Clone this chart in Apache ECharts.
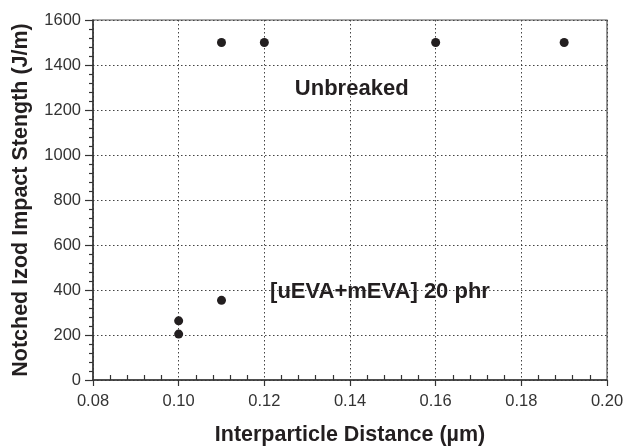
<!DOCTYPE html>
<html>
<head>
<meta charset="utf-8">
<script src="https://cdn.jsdelivr.net/npm/echarts@6/dist/echarts.min.js"></script>
<style>
  html, body { margin: 0; padding: 0; background: #fff; }
  #chart { width: 627px; height: 446px; }
</style>
</head>
<body>
<div id="chart"></div>
<script>
// interparticle distance (um) vs notched izod impact strength (J/m)
const distance = [0.10, 0.10, 0.11, 0.11, 0.12, 0.16, 0.19];
const strength = [204, 263, 354, 1500, 1500, 1500, 1500];

// annotation texts and where they sit (data coords)
const noteText = ['Unbreaked', '[uEVA+mEVA] 20 phr'];
const noteX = [0.1404, 0.147];
const noteY = [1293, 392];

const xTicks = { min: 0.08, max: 0.20, interval: 0.02 };
const yTicks = { min: 0, max: 1600, interval: 200 };

const font = 'Liberation Sans, Arial, sans-serif';
const ink = '#231f20';

const chart = echarts.init(document.getElementById('chart'));

const option = {
  animation: false,
  grid: {
    left: 93, right: 20, top: 20, bottom: 66,
    outerBoundsMode: 'none',
    containLabel: false,
    show: true, borderColor: '#555', borderWidth: 1.2, backgroundColor: 'transparent'
  },
  xAxis: [
    {
      type: 'value',
      min: xTicks.min, max: xTicks.max, interval: xTicks.interval,
      position: 'bottom',
      name: 'Interparticle Distance (\u00b5m)',
      nameLocation: 'middle',
      nameGap: 44,
      nameTextStyle: { fontFamily: font, fontSize: 21.5, fontWeight: 'bold', color: ink },
      axisLine: { onZero: false, lineStyle: { color: '#333', width: 1.5 } },
      axisTick: { show: true, length: 6, lineStyle: { color: '#333', width: 1.2 } },
      minorTick: { show: false },
      axisLabel: {
        fontFamily: font, fontSize: 16.5, color: '#333', margin: 13,
        formatter: v => v.toFixed(2)
      },
      splitLine: {
        show: true,
        lineStyle: { type: [1.5, 2.5], color: '#444', width: 1 }
      }
    },
    {
      // inner minor ticks on the bottom axis
      type: 'value',
      min: xTicks.min, max: xTicks.max, interval: xTicks.interval,
      position: 'bottom',
      axisLine: { show: false, onZero: false },
      axisTick: { show: false, inside: true },
      minorTick: { show: true, splitNumber: 5, length: 5, lineStyle: { color: '#333', width: 1.2 } },
      axisLabel: { show: false },
      splitLine: { show: false }
    }
  ],
  yAxis: {
    type: 'value',
    min: yTicks.min, max: yTicks.max, interval: yTicks.interval,
    name: 'Notched Izod Impact Stength (J/m)',
    nameLocation: 'middle',
    nameGap: 61,
    nameTextStyle: { fontFamily: font, fontSize: 21.5, fontWeight: 'bold', color: ink },
    axisLine: { show: true, lineStyle: { color: '#333', width: 1.5 } },
    axisTick: { show: true, length: 8, lineStyle: { color: '#333', width: 1.2 } },
    minorTick: { show: true, splitNumber: 5, length: 4, lineStyle: { color: '#333', width: 1.2 } },
    axisLabel: {
      fontFamily: font, fontSize: 16.5, color: '#333', margin: 12,
      formatter: v => String(v)
    },
    splitLine: {
      show: true,
      lineStyle: { type: [1.5, 2.5], color: '#444', width: 1 }
    }
  },
  series: [
    {
      type: 'scatter',
      symbol: 'circle',
      symbolSize: 9,
      itemStyle: { color: ink, opacity: 1 },
      data: distance.map((d, i) => [d, strength[i]]),
      z: 5
    },
    {
      type: 'scatter',
      symbolSize: 0,
      silent: true,
      itemStyle: { opacity: 1 },
      data: noteText.map((t, i) => ({ value: [noteX[i], noteY[i]], name: t })),
      label: {
        show: true,
        position: 'inside',
        formatter: p => p.name,
        fontFamily: font, fontSize: 22, fontWeight: 'bold', color: ink
      }
    }
  ]
};

chart.setOption(option);
</script>
</body>
</html>
